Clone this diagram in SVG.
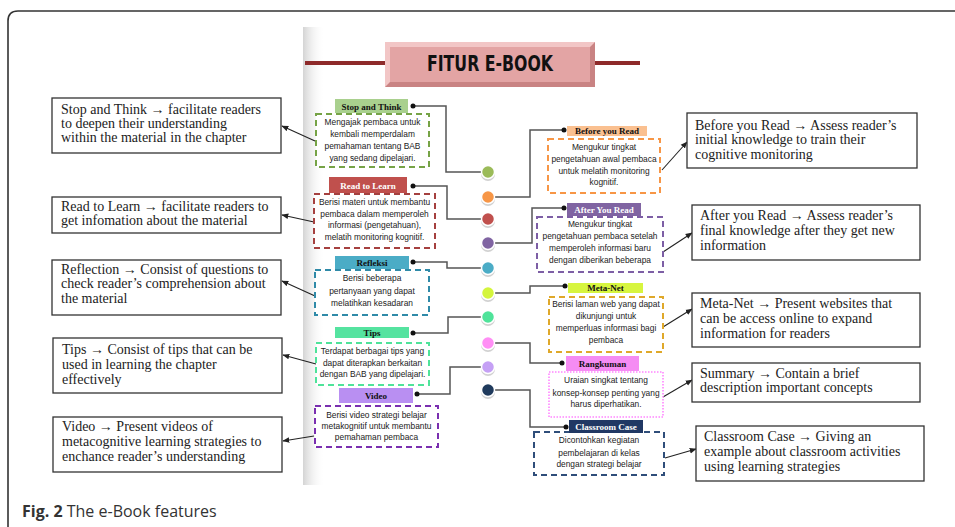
<svg xmlns="http://www.w3.org/2000/svg" width="955" height="527" viewBox="0 0 955 527">
<style>
.frame{fill:none;stroke:#333;stroke-width:1.6}
.hdr{font-family:"Liberation Serif",serif;font-weight:bold;font-size:9px;text-anchor:middle}
.body{font-family:"Liberation Sans",Arial,sans-serif;font-size:8.4px;fill:#222;text-anchor:middle}
.dash{fill:#fff;stroke-width:2;stroke-dasharray:6 4}
.expl{fill:#fff;stroke:#333;stroke-width:1.3}
.et{font-family:"Liberation Serif",serif;font-size:14px;fill:#222}
.conn{fill:none;stroke:#555;stroke-width:1.5}
.arr{fill:none;stroke:#222;stroke-width:1.1;marker-end:url(#ah)}
.dot{fill:#111}
.cir{stroke:#fff;stroke-width:1.5}
.sh{fill:#000;opacity:0.18}
</style>
<defs>
<marker id="ah" viewBox="0 0 10 10" refX="9" refY="5" markerWidth="7" markerHeight="7" orient="auto" markerUnits="userSpaceOnUse">
<path d="M0,1 L10,5 L0,9 z" fill="#222"/>
</marker>
<linearGradient id="pg" x1="0" y1="0" x2="1" y2="0">
<stop offset="0" stop-color="#d4d4d4"/>
<stop offset="1" stop-color="#ffffff" stop-opacity="0"/>
</linearGradient>
</defs>
<rect width="955" height="527" fill="#fff"/>
<path class="frame" d="M8,540 V21 Q8,11 18,11 H960"/>
<rect x="303" y="27" width="22" height="458" fill="url(#pg)"/>

<g id="title">
<line x1="305" y1="63" x2="385" y2="63" stroke="#8e2a2a" stroke-width="4"/>
<line x1="595" y1="63" x2="640" y2="63" stroke="#8e2a2a" stroke-width="4"/>
<rect x="385" y="42" width="210" height="45" fill="#c98383"/>
<polygon points="385,42 595,42 590,47 390,47 390,82 385,87" fill="#f2c6c6"/>
<rect x="390" y="47" width="200" height="35" fill="#e3a4a4"/>
<text x="427" y="71" textLength="126" lengthAdjust="spacingAndGlyphs" font-family="'DejaVu Sans Condensed','DejaVu Sans',sans-serif" font-weight="bold" font-size="21" fill="#111">FITUR E-BOOK</text>
</g>

<g id="connectors">
<path class="conn" d="M413,106 H446 V172 H488"/>
<path class="conn" d="M413,186 H447 V219 H488"/>
<path class="conn" d="M413,262 H447 V268 H488"/>
<path class="conn" d="M413,333 H448 V317 H488"/>
<path class="conn" d="M417,394 H450 V367 H488"/>
<path class="conn" d="M564,130 H530 V197 H488"/>
<path class="conn" d="M564,208 H532 V243 H488"/>
<path class="conn" d="M565,286 H530 V293 H488"/>
<path class="conn" d="M562,363 H530 V343 H488"/>
<path class="conn" d="M566,427 H530 V390 H488"/>
<line class="arr" x1="315" y1="141" x2="282" y2="126"/>
<line class="arr" x1="314" y1="222" x2="282" y2="215"/>
<line class="arr" x1="315" y1="296" x2="282" y2="281"/>
<line class="arr" x1="316" y1="364" x2="283" y2="355"/>
<line class="arr" x1="314" y1="436" x2="283" y2="441"/>
<line class="arr" x1="662" y1="170" x2="687" y2="142"/>
<line class="arr" x1="663" y1="252" x2="692" y2="233"/>
<line class="arr" x1="663" y1="327" x2="692" y2="309"/>
<line class="arr" x1="663" y1="397" x2="692" y2="380"/>
<line class="arr" x1="665" y1="458" x2="696" y2="449"/>
<circle class="dot" cx="413" cy="106" r="2.5"/>
<circle class="dot" cx="413" cy="186" r="2.5"/>
<circle class="dot" cx="413" cy="262" r="2.5"/>
<circle class="dot" cx="413" cy="333" r="2.5"/>
<circle class="dot" cx="417" cy="394" r="2.5"/>
<circle class="dot" cx="564" cy="130" r="2.5"/>
<circle class="dot" cx="564" cy="208" r="2.5"/>
<circle class="dot" cx="565" cy="286" r="2.5"/>
<circle class="dot" cx="562" cy="363" r="2.5"/>
<circle class="dot" cx="566" cy="427" r="2.5"/>
</g>

<g id="circles">
<circle class="sh" cx="488" cy="174" r="7"/><circle class="cir" cx="488" cy="172" r="6.5" fill="#9bbb59"/>
<circle class="sh" cx="488" cy="199" r="7"/><circle class="cir" cx="488" cy="197" r="6.5" fill="#f79646"/>
<circle class="sh" cx="488" cy="221" r="7"/><circle class="cir" cx="488" cy="219" r="6.5" fill="#c0504d"/>
<circle class="sh" cx="488" cy="245" r="7"/><circle class="cir" cx="488" cy="243" r="6.5" fill="#8064a2"/>
<circle class="sh" cx="488" cy="270" r="7"/><circle class="cir" cx="488" cy="268" r="6.5" fill="#4bacc6"/>
<circle class="sh" cx="488" cy="295" r="7"/><circle class="cir" cx="488" cy="293" r="6.5" fill="#d4f53c"/>
<circle class="sh" cx="488" cy="319" r="7"/><circle class="cir" cx="488" cy="317" r="6.5" fill="#4fe39a"/>
<circle class="sh" cx="488" cy="345" r="7"/><circle class="cir" cx="488" cy="343" r="6.5" fill="#ff8ef5"/>
<circle class="sh" cx="488" cy="369" r="7"/><circle class="cir" cx="488" cy="367" r="6.5" fill="#c5a0f5"/>
<circle class="sh" cx="488" cy="392" r="7"/><circle class="cir" cx="488" cy="390" r="6.5" fill="#1f3a5c"/>
</g>

<g id="stop-and-think">
<rect x="335" y="99" width="73" height="14" fill="#a9d08e"/>
<text class="hdr" x="371.5" y="109.5" fill="#111">Stop and Think</text>
<rect class="dash" x="316" y="114" width="113" height="53" stroke="#76a346"/>
<text class="body" x="372.5" y="125">Mengajak pembaca untuk</text>
<text class="body" x="372.5" y="137">kembali memperdalam</text>
<text class="body" x="372.5" y="149">pemahaman tentang BAB</text>
<text class="body" x="372.5" y="161">yang sedang dipelajari.</text>
</g>

<g id="read-to-learn">
<rect x="329" y="177" width="78" height="16" fill="#c0504d"/>
<text class="hdr" x="368" y="188.5" fill="#fff">Read to Learn</text>
<rect class="dash" x="314" y="194" width="121" height="54" stroke="#a5403f"/>
<text class="body" x="374.5" y="205">Berisi materi untuk membantu</text>
<text class="body" x="374.5" y="217">pembaca dalam memperoleh</text>
<text class="body" x="374.5" y="228">informasi (pengetahuan),</text>
<text class="body" x="374.5" y="240">melatih monitoring kognitif.</text>
</g>

<g id="refleksi">
<rect x="335" y="256" width="74" height="13" fill="#4bacc6"/>
<text class="hdr" x="372" y="266" fill="#111">Refleksi</text>
<rect class="dash" x="315" y="270" width="114" height="45" stroke="#2f8aa8"/>
<text class="body" x="372" y="281">Berisi beberapa</text>
<text class="body" x="372" y="294">pertanyaan yang dapat</text>
<text class="body" x="372" y="306">melatihkan kesadaran</text>
</g>

<g id="tips">
<rect x="335" y="327" width="74" height="11" fill="#55e3a0"/>
<text class="hdr" x="372" y="336" fill="#111">Tips</text>
<rect class="dash" x="316" y="343" width="113" height="42" stroke="#4fe39a"/>
<text class="body" x="372.5" y="354">Terdapat berbagai tips yang</text>
<text class="body" x="372.5" y="366">dapat diterapkan berkaitan</text>
<text class="body" x="372.5" y="377">dengan BAB yang dipelajari.</text>
</g>

<g id="video">
<rect x="339" y="388" width="74" height="15" fill="#b98ff2"/>
<text class="hdr" x="376" y="399" fill="#111">Video</text>
<rect class="dash" x="315" y="406" width="123" height="41" stroke="#7a2fb0"/>
<text class="body" x="376.5" y="418">Berisi video strategi belajar</text>
<text class="body" x="376.5" y="429">metakognitif untuk membantu</text>
<text class="body" x="376.5" y="440">pemahaman pembaca</text>
</g>

<g id="before-you-read">
<rect x="567" y="126" width="80" height="10" fill="#fac090"/>
<text class="hdr" x="607" y="134" fill="#111">Before you Read</text>
<rect class="dash" x="548" y="139" width="112" height="54" stroke="#f79646"/>
<text class="body" x="604" y="150">Mengukur tingkat</text>
<text class="body" x="604" y="162">pengetahuan awal pembaca</text>
<text class="body" x="604" y="174">untuk melatih monitoring</text>
<text class="body" x="604" y="185">kognitif.</text>
</g>

<g id="after-you-read">
<rect x="567" y="203" width="74" height="13" fill="#8064a2"/>
<text class="hdr" x="604" y="213" fill="#fff">After You Read</text>
<rect class="dash" x="537" y="217" width="126" height="55" stroke="#7d5ea5"/>
<text class="body" x="600" y="227">Mengukur tingkat</text>
<text class="body" x="600" y="239">pengetahuan pembaca setelah</text>
<text class="body" x="600" y="251">memperoleh informasi baru</text>
<text class="body" x="600" y="263">dengan diberikan beberapa</text>
</g>

<g id="meta-net">
<rect x="568" y="283" width="75" height="10" fill="#d7f53f"/>
<text class="hdr" x="605.5" y="291" fill="#111">Meta-Net</text>
<rect class="dash" x="549" y="297" width="114" height="55" stroke="#dfa82a"/>
<text class="body" x="606" y="307">Berisi laman web yang dapat</text>
<text class="body" x="606" y="319">dikunjungi untuk</text>
<text class="body" x="606" y="331">memperluas informasi bagi</text>
<text class="body" x="606" y="343">pembaca</text>
</g>

<g id="rangkuman">
<rect x="566" y="356" width="73" height="15" fill="#f58cf3"/>
<text class="hdr" x="602.5" y="367" fill="#111">Rangkuman</text>
<rect x="549" y="372" width="114" height="45" fill="#fff" stroke="#ff85ff" stroke-width="1.6" stroke-dasharray="1.5 1.5"/>
<text class="body" x="606" y="383">Uraian singkat tentang</text>
<text class="body" x="606" y="396">konsep-konsep penting yang</text>
<text class="body" x="606" y="407">harus diperhatikan.</text>
</g>

<g id="classroom-case">
<rect class="dash" x="534" y="432" width="130" height="43" stroke="#2f4e7a"/>
<rect x="569" y="420" width="74" height="13" fill="#203864"/>
<text class="hdr" x="606" y="430" fill="#fff">Classroom Case</text>
<text class="body" x="599" y="443">Dicontohkan kegiatan</text>
<text class="body" x="599" y="456">pembelajaran di kelas</text>
<text class="body" x="599" y="467">dengan strategi belajar</text>
</g>

<g id="expl-stop-and-think">
<rect class="expl" x="52" y="98" width="229" height="55"/>
<text class="et" x="61" y="114">Stop and Think → facilitate readers</text>
<text class="et" x="61" y="128">to deepen their understanding</text>
<text class="et" x="61" y="142">within the material in the chapter</text>
</g>
<g id="expl-read-to-learn">
<rect class="expl" x="52" y="197" width="229" height="36"/>
<text class="et" x="61" y="211">Read to Learn → facilitate readers to</text>
<text class="et" x="61" y="225">get infomation about the material</text>
</g>
<g id="expl-reflection">
<rect class="expl" x="52" y="260" width="229" height="55"/>
<text class="et" x="61" y="274">Reflection → Consist of questions to</text>
<text class="et" x="61" y="288">check reader’s comprehension about</text>
<text class="et" x="61" y="303">the material</text>
</g>
<g id="expl-tips">
<rect class="expl" x="53" y="338" width="229" height="55"/>
<text class="et" x="62" y="354">Tips → Consist of tips that can be</text>
<text class="et" x="62" y="369">used in learning the chapter</text>
<text class="et" x="62" y="384">effectively</text>
</g>
<g id="expl-video">
<rect class="expl" x="53" y="417" width="229" height="55"/>
<text class="et" x="62" y="431">Video → Present videos of</text>
<text class="et" x="62" y="446">metacognitive learning strategies to</text>
<text class="et" x="62" y="461">enchance reader’s understanding</text>
</g>
<g id="expl-before-you-read">
<rect class="expl" x="687" y="113" width="230" height="55"/>
<text class="et" x="695" y="130">Before you Read → Assess reader’s</text>
<text class="et" x="695" y="144">initial knowledge to train their</text>
<text class="et" x="695" y="159">cognitive monitoring</text>
</g>
<g id="expl-after-you-read">
<rect class="expl" x="692" y="205" width="228" height="55"/>
<text class="et" x="700" y="220">After you Read → Assess reader’s</text>
<text class="et" x="700" y="235">final knowledge after they get new</text>
<text class="et" x="700" y="250">information</text>
</g>
<g id="expl-meta-net">
<rect class="expl" x="692" y="293" width="228" height="54"/>
<text class="et" x="700" y="308">Meta-Net → Present websites that</text>
<text class="et" x="700" y="323">can be access online to expand</text>
<text class="et" x="700" y="338">information for readers</text>
</g>
<g id="expl-summary">
<rect class="expl" x="692" y="363" width="228" height="39"/>
<text class="et" x="700" y="378">Summary → Contain a brief</text>
<text class="et" x="700" y="392">description important concepts</text>
</g>
<g id="expl-classroom-case">
<rect class="expl" x="696" y="426" width="228" height="55"/>
<text class="et" x="704" y="441">Classroom Case → Giving an</text>
<text class="et" x="704" y="456">example about classroom activities</text>
<text class="et" x="704" y="471">using learning strategies</text>
</g>

<text x="22" y="517" font-family="'Open Sans','Noto Sans',sans-serif" font-size="16" fill="#333"><tspan font-weight="bold">Fig. 2</tspan> The e-Book features</text>
</svg>
